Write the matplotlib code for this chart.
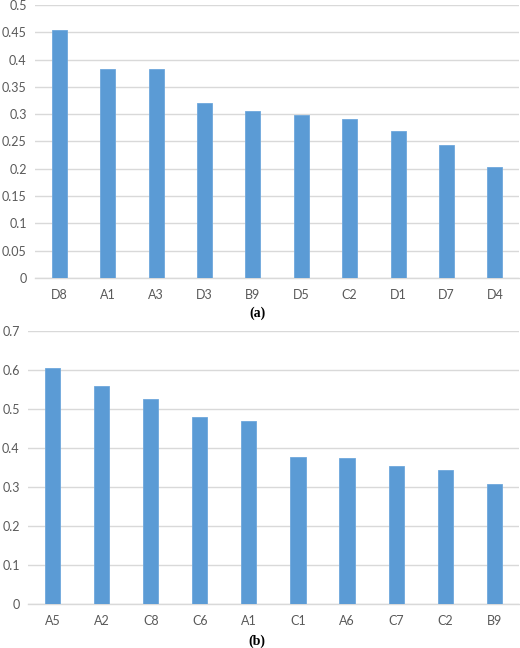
import matplotlib.pyplot as plt
from matplotlib.ticker import FuncFormatter

plt.rcParams['font.family'] = ['Lato', 'DejaVu Sans']

labels_a = ['D8', 'A1', 'A3', 'D3', 'B9', 'D5', 'C2', 'D1', 'D7', 'D4']
values_a = [0.455, 0.383, 0.382, 0.321, 0.305, 0.299, 0.292, 0.270, 0.244, 0.203]
ticks_a = [0, 0.05, 0.1, 0.15, 0.2, 0.25, 0.3, 0.35, 0.4, 0.45, 0.5]

labels_b = ['A5', 'A2', 'C8', 'C6', 'A1', 'C1', 'A6', 'C7', 'C2', 'B9']
values_b = [0.607, 0.559, 0.526, 0.479, 0.470, 0.378, 0.375, 0.353, 0.345, 0.307]
ticks_b = [0, 0.1, 0.2, 0.3, 0.4, 0.5, 0.6, 0.7]

BAR = '#5B9BD5'
GRID = '#D9D9D9'
TEXT = '#595959'


def bar_panel(ax, labels, values, ticks):
    x = range(len(labels))
    ax.bar(x, values, width=0.31, color=BAR, edgecolor='#6FA8DC',
           linewidth=0.6, zorder=3)
    ax.set_xlim(-0.5, len(labels) - 0.5)
    ax.set_ylim(ticks[0], ticks[-1])
    ax.set_yticks(ticks)
    ax.yaxis.set_major_formatter(FuncFormatter(lambda v, p: f'{v:g}'))
    ax.set_xticks(list(x))
    ax.set_xticklabels(labels)
    ax.grid(axis='y', color=GRID, linewidth=1.0, zorder=0)
    for side in ['top', 'right', 'left']:
        ax.spines[side].set_visible(False)
    ax.spines['bottom'].set_color(GRID)
    ax.spines['bottom'].set_linewidth(1.0)
    ax.tick_params(length=0, colors=TEXT, labelsize=9)
    ax.tick_params(axis='x', pad=8)
    ax.tick_params(axis='y', pad=6)


fig = plt.figure(figsize=(5.2, 6.48), dpi=100)
ax_a = fig.add_axes([0.0673, 0.571, 0.931, 0.4213])
ax_b = fig.add_axes([0.0538, 0.0679, 0.944, 0.4208])

bar_panel(ax_a, labels_a, values_a, ticks_a)
bar_panel(ax_b, labels_b, values_b, ticks_b)

fig.text(0.496, 1 - 313 / 648, '(a)', ha='center', va='center',
         family='Liberation Serif', weight='bold', fontsize=10)
fig.text(0.494, 1 - 641 / 648, '(b)', ha='center', va='center',
         family='Liberation Serif', weight='bold', fontsize=10)

fig.savefig('out.png', dpi=100)
